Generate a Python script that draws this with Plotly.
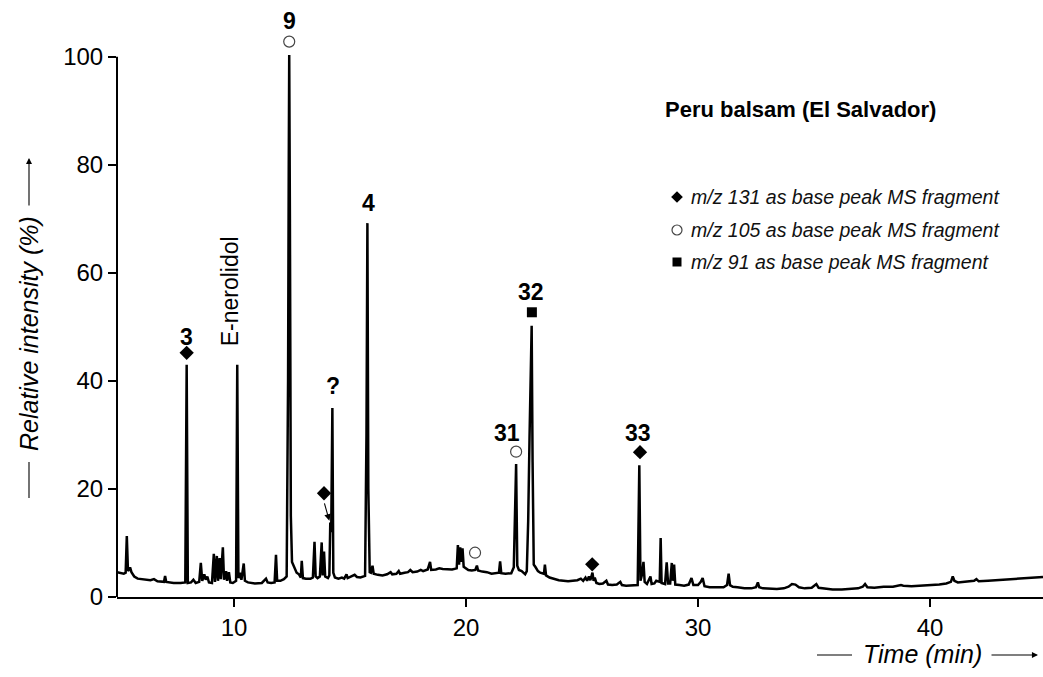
import plotly.graph_objects as go

# ---- chromatogram (time in min, relative intensity in %) ----
time = [4.96, 5.10, 5.25, 5.33, 5.38, 5.43, 5.52, 5.58, 5.70, 5.85, 6.10, 6.40, 6.55, 6.70, 6.98, 7.03, 7.08,
        7.40, 7.70, 7.90, 7.96, 8.01, 8.15, 8.25, 8.35, 8.50, 8.57, 8.63, 8.72, 8.78, 8.85, 8.92, 9.05,
        9.13, 9.18, 9.26, 9.31, 9.38, 9.43, 9.52, 9.57, 9.66, 9.70, 9.78, 9.84, 9.95, 10.09, 10.14, 10.19,
        10.25, 10.32, 10.42, 10.47, 10.60, 10.90, 11.20, 11.38, 11.45, 11.60, 11.75, 11.81, 11.86, 12.00,
        12.15, 12.27, 12.33, 12.36, 12.38, 12.41, 12.45, 12.50, 12.55, 12.62, 12.70, 12.80, 12.88, 12.92,
        12.97, 13.10, 13.30, 13.40, 13.47, 13.52, 13.60, 13.70, 13.78, 13.82, 13.88, 13.93, 14.05, 14.11,
        14.15, 14.19, 14.24, 14.28, 14.35, 14.50, 14.65, 14.75, 14.85, 14.90, 15.05, 15.20, 15.30, 15.45,
        15.65, 15.71, 15.75, 15.79, 15.85, 15.90, 15.97, 16.02, 16.20, 16.40, 16.60, 16.75, 16.82, 17.00,
        17.10, 17.16, 17.35, 17.50, 17.60, 17.70, 17.90, 18.05, 18.15, 18.35, 18.45, 18.50, 18.70, 18.85,
        19.00, 19.20, 19.40, 19.60, 19.65, 19.70, 19.75, 19.80, 19.85, 19.90, 20.00, 20.10, 20.25, 20.40,
        20.47, 20.52, 20.70, 20.90, 21.10, 21.30, 21.42, 21.47, 21.52, 21.70, 21.95, 22.06, 22.12, 22.16,
        22.21, 22.28, 22.40, 22.55, 22.62, 22.68, 22.74, 22.79, 22.83, 22.87, 22.92, 23.00, 23.10, 23.20,
        23.36, 23.40, 23.45, 23.60, 23.80, 24.00, 24.20, 24.40, 24.60, 24.80, 24.95, 25.05, 25.15, 25.22,
        25.30, 25.36, 25.45, 25.50, 25.55, 25.62, 25.75, 25.90, 26.05, 26.12, 26.30, 26.50, 26.65, 26.72,
        26.90, 27.10, 27.30, 27.40, 27.44, 27.47, 27.52, 27.58, 27.65, 27.70, 27.80, 27.95, 28.00, 28.12,
        28.20, 28.35, 28.39, 28.43, 28.58, 28.65, 28.71, 28.80, 28.87, 28.92, 28.97, 29.02, 29.20, 29.40,
        29.60, 29.72, 29.80, 30.00, 30.12, 30.20, 30.28, 30.50, 30.80, 31.10, 31.25, 31.32, 31.38, 31.50,
        31.70, 32.00, 32.30, 32.50, 32.58, 32.64, 32.80, 33.10, 33.40, 33.70, 33.90, 34.05, 34.20, 34.35,
        34.60, 34.90, 35.10, 35.20, 35.50, 35.80, 36.20, 36.60, 36.90, 37.10, 37.20, 37.30, 37.60, 38.00,
        38.40, 38.75, 38.85, 39.20, 39.60, 40.00, 40.40, 40.70, 40.90, 40.98, 41.05, 41.20, 41.60, 41.90,
        42.00, 42.10, 42.50, 42.90, 43.30, 43.70, 44.10, 44.50, 44.87]
intensity = [4.6, 4.4, 4.3, 4.5, 11.3, 4.8, 5.5, 4.6, 3.8, 3.4, 3.3, 3.1, 3.3, 2.9, 2.8, 3.9, 2.8,
             2.6, 2.6, 2.7, 43.0, 2.6, 2.7, 3.2, 2.6, 2.8, 6.3, 3.0, 4.2, 3.2, 3.8, 2.7, 2.6,
             8.0, 2.8, 7.6, 3.0, 7.2, 3.3, 9.2, 3.2, 4.8, 3.0, 4.6, 2.7, 2.6, 3.0, 43.0, 3.5,
             4.5, 3.2, 6.2, 3.0, 2.7, 2.5, 2.6, 3.4, 2.7, 2.6, 2.7, 7.8, 3.0, 3.0,
             3.3, 3.8, 40.0, 80.0, 100.3, 70.0, 15.0, 6.5, 6.0, 5.2, 4.5, 4.2, 3.6, 6.7,
             3.5, 3.4, 3.4, 3.6, 10.2, 3.8, 3.5, 3.8, 10.1, 4.0, 8.4, 3.8, 3.5, 4.0,
             13.8, 12.0, 35.0, 4.5, 3.6, 3.4, 3.6, 3.4, 4.2, 3.5, 3.8, 4.1, 3.7, 3.6,
             3.9, 30.0, 69.2, 20.0, 4.6, 4.5, 5.8, 4.3, 4.1, 4.0, 4.2, 4.6, 4.2, 4.3,
             4.8, 4.3, 4.5, 4.6, 5.0, 4.6, 4.7, 5.0, 4.8, 5.1, 6.5, 5.0, 5.1, 5.3,
             5.2, 5.2, 5.1, 5.3, 9.6, 6.0, 9.2, 6.5, 9.0, 5.6, 5.3, 5.0, 4.9, 5.0,
             5.8, 4.9, 4.7, 4.6, 4.3, 4.4, 4.5, 6.6, 4.4, 4.3, 4.4, 5.5, 15.0, 24.6,
             5.8, 5.0, 4.8, 4.2, 4.8, 14.0, 30.0, 42.0, 50.2, 25.0, 6.0, 5.5, 4.8, 4.5,
             4.3, 6.0, 4.0, 3.6, 3.3, 3.1, 3.0, 2.9, 3.0, 3.1, 3.4, 3.0, 3.6, 3.0,
             3.8, 3.1, 4.5, 3.0, 3.6, 2.6, 2.4, 2.5, 3.0, 2.3, 2.2, 2.3, 2.8, 2.2,
             2.1, 2.1, 2.1, 2.2, 15.0, 24.4, 3.0, 4.0, 6.5, 2.8, 2.4, 3.8, 2.4, 2.5,
             3.0, 2.8, 10.9, 2.6, 2.4, 6.4, 2.5, 2.5, 6.3, 3.0, 6.0, 2.3, 2.2, 2.1,
             2.3, 3.5, 2.2, 2.2, 2.8, 3.5, 2.0, 1.8, 1.8, 1.8, 2.2, 4.3, 2.2, 1.9,
             1.8, 1.6, 1.6, 1.8, 2.7, 1.8, 1.6, 1.5, 1.5, 1.6, 1.9, 2.4, 2.3, 1.8,
             1.6, 1.7, 2.4, 1.7, 1.5, 1.4, 1.4, 1.5, 1.6, 1.9, 2.4, 1.8, 1.7, 1.9,
             1.9, 2.2, 2.1, 2.0, 2.1, 2.1, 2.3, 2.5, 2.8, 3.8, 3.0, 2.7, 2.8, 3.0,
             3.3, 2.9, 3.0, 3.1, 3.2, 3.3, 3.5, 3.6, 3.7]

# ---- peak labels ----
label_text = ["3", "9", "?", "4", "31", "32", "33"]
label_t = [7.96, 12.38, 14.25, 15.79, 21.75, 22.80, 27.43]
label_y = [48.1, 106.7, 39.1, 72.9, 30.3, 56.4, 30.3]

named_text = "E-nerolidol"
named_t = 9.83
named_y = 56.6

# ---- base peak fragment symbols ----
diamond_t = [7.96, 13.88, 25.44, 27.50]
diamond_y = [45.2, 19.2, 6.05, 26.8]
circle_t = [12.38, 20.39, 22.16]
circle_y = [102.8, 8.2, 26.9]
square_t = [22.84]
square_y = [52.7]

legend_text = ["m/z 131 as base peak MS fragment",
               "m/z 105 as base peak MS fragment",
               "m/z 91 as base peak MS fragment"]
legend_symbol = ["diamond", "circle-open", "square"]

title_text = "Peru balsam (El Salvador)"
x_ticks = [10, 20, 30, 40]
y_ticks = [0, 20, 40, 60, 80, 100]

FONT = "Liberation Sans, Arial, sans-serif"
W, H = 1043, 677
ML, MB = 117, 80
PW, PH = W - ML, H - MB


def px(xp):
    return (xp - ML) / PW


def py(yp):
    return (PH - yp) / PH


fig = go.Figure()
fig.add_trace(go.Scatter(x=time, y=intensity, mode="lines",
                         line=dict(color="black", width=2.5), hoverinfo="skip"))
fig.add_trace(go.Scatter(x=diamond_t, y=diamond_y, mode="markers", cliponaxis=False,
                         marker=dict(symbol="diamond", size=11, color="black")))
fig.add_trace(go.Scatter(x=circle_t, y=circle_y, mode="markers", cliponaxis=False,
                         marker=dict(symbol="circle-open", size=11, color="#444",
                                     line=dict(width=1.2, color="#444"))))
fig.add_trace(go.Scatter(x=square_t, y=square_y, mode="markers", cliponaxis=False,
                         marker=dict(symbol="square", size=10, color="black")))

# legend symbols on an overlay axis in paper units
leg_y = [py(197), py(230), py(262)]
for sym, yy in zip(legend_symbol, leg_y):
    mk = dict(symbol=sym, size=9 if sym != "circle-open" else 10, color="black")
    if sym == "circle-open":
        mk["color"] = "#444"
        mk["line"] = dict(width=1.2, color="#444")
    fig.add_trace(go.Scatter(x=[px(677)], y=[yy], mode="markers", xaxis="x2", yaxis="y2",
                             cliponaxis=False, marker=mk))

ann = []
for t, x, y in zip(label_text, label_t, label_y):
    ann.append(dict(x=x, y=y, xref="x", yref="y", text="<b>%s</b>" % t, showarrow=False,
                    xanchor="center", yanchor="middle",
                    font=dict(size=23, color="black", family=FONT)))
ann.append(dict(x=named_t, y=named_y, xref="x", yref="y", text=named_text, textangle=-90,
                xanchor="center", yanchor="middle",
                showarrow=False, font=dict(size=23, color="black", family=FONT)))
# arrow from the diamond to the shoulder peak
ann.append(dict(x=14.11, y=14.1, ax=13.88, ay=17.6, xref="x", yref="y", axref="x", ayref="y",
                text="", showarrow=True, arrowhead=2, arrowsize=1.2, arrowwidth=1.1,
                arrowcolor="black"))
# title and legend texts
ann.append(dict(x=px(663), y=py(110), xref="paper", yref="paper", xanchor="left", yanchor="middle",
                text="<b>%s</b>" % title_text, showarrow=False,
                font=dict(size=22, color="black", family=FONT)))
for t, yy in zip(legend_text, leg_y):
    ann.append(dict(x=px(689), y=yy, xref="paper", yref="paper", xanchor="left", yanchor="middle",
                    text="<i>%s</i>" % t, showarrow=False,
                    font=dict(size=19.5, color="#111", family=FONT)))
# axis titles
ann.append(dict(x=px(922.5), y=py(654), xref="paper", yref="paper", text="<i>Time (min)</i>",
                xanchor="center", yanchor="middle", showarrow=False,
                font=dict(size=25, color="black", family=FONT)))
ann.append(dict(x=px(1038), y=py(655), xref="paper", yref="paper", text="", showarrow=True,
                ax=-48, ay=0, arrowhead=2, arrowsize=1.1, arrowwidth=1.1, arrowcolor="black"))
ann.append(dict(x=px(29), y=py(334), xref="paper", yref="paper",
                text="<i>Relative intensity (%)</i>", textangle=-90,
                xanchor="center", yanchor="middle",
                showarrow=False, font=dict(size=25, color="black", family=FONT)))
ann.append(dict(x=px(29), y=py(158), xref="paper", yref="paper", text="", showarrow=True,
                ax=0, ay=49, arrowhead=2, arrowsize=1.1, arrowwidth=1.1, arrowcolor="black"))

shapes = [
    dict(type="line", xref="paper", yref="y", x0=0, x1=0, y0=0, y1=100,
         line=dict(color="black", width=2)),
    dict(type="line", xref="paper", yref="paper", x0=px(817), x1=px(852), y0=py(655), y1=py(655),
         line=dict(color="black", width=1.1)),
    dict(type="line", xref="paper", yref="paper", x0=px(29), x1=px(29), y0=py(498), y1=py(462),
         line=dict(color="black", width=1.1)),
]

fig.update_layout(
    width=W, height=H,
    margin=dict(l=ML, r=0, t=0, b=MB, pad=0),
    paper_bgcolor="white", plot_bgcolor="white",
    showlegend=False,
    font=dict(family=FONT, color="black"),
    xaxis=dict(range=[4.957, 44.87], tickvals=x_ticks, ticks="outside", ticklen=8, tickwidth=2,
               tickcolor="black", showline=True, linecolor="black", linewidth=2,
               showgrid=False, zeroline=False, tickfont=dict(size=24, color="black", family=FONT)),
    yaxis=dict(range=[0, 110.5], tickvals=y_ticks, ticks="outside", ticklen=8, tickwidth=2,
               tickcolor="black", showline=False, showgrid=False, zeroline=False,
               tickfont=dict(size=24, color="black", family=FONT)),
    xaxis2=dict(overlaying="x", range=[0, 1], visible=False, anchor="y2"),
    yaxis2=dict(overlaying="y", range=[0, 1], visible=False, anchor="x2"),
    annotations=ann,
    shapes=shapes,
)

fig.write_html("out.html", config={"displayModeBar": False},
               post_script="document.body.style.margin='0';document.body.style.overflow='hidden';")
